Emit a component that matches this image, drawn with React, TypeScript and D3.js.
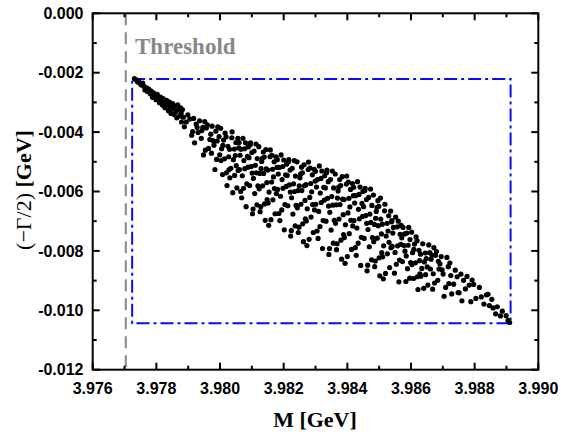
import React from 'react';
import * as d3 from 'd3';

const W = 561;
const H = 432;

const massTicks = [3.976, 3.978, 3.98, 3.982, 3.984, 3.986, 3.988, 3.99];
const massTickLabels = ['3.976', '3.978', '3.980', '3.982', '3.984', '3.986', '3.988', '3.990'];
const widthTicks = [0, -0.002, -0.004, -0.006, -0.008, -0.01, -0.012];
const widthTickLabels = ['0.000', '-0.002', '-0.004', '-0.006', '-0.008', '-0.010', '-0.012'];

const thresholdMass = 3.97704;
const thresholdLabel = 'Threshold';
const boxMass = [3.97724, 3.98913];
const boxWidth = [-0.00221, -0.01044];

const xTitle = 'M [GeV]';

const scatterPoints: [number, number][] = [
  [3.97731,-0.00220],[3.97736,-0.00224],[3.97741,-0.00231],[3.97744,-0.00227],[3.97749,-0.00236],[3.97753,-0.00241],[3.97757,-0.00235],
  [3.97761,-0.00246],[3.97764,-0.00258],[3.97769,-0.00251],[3.97772,-0.00263],[3.97776,-0.00255],[3.97781,-0.00271],[3.97784,-0.00262],[3.97788,-0.00283],
  [3.97791,-0.00268],[3.97794,-0.00279],[3.97799,-0.00291],[3.97803,-0.00273],[3.97806,-0.00286],[3.97810,-0.00301],[3.97813,-0.00282],[3.97817,-0.00294],[3.97819,-0.00309],
  [3.97821,-0.00287],[3.97825,-0.00302],[3.97827,-0.00318],[3.97832,-0.00293],[3.97834,-0.00309],[3.97838,-0.00328],[3.97841,-0.00299],[3.97844,-0.00316],[3.97846,-0.00337],[3.97849,-0.00306],
  [3.97851,-0.00304],[3.97853,-0.00322],[3.97856,-0.00341],[3.97859,-0.00313],[3.97862,-0.00331],[3.97864,-0.00352],[3.97867,-0.00308],[3.97870,-0.00324],[3.97873,-0.00346],[3.97876,-0.00318],[3.97878,-0.00337],[3.97879,-0.00366],
  [3.97882,-0.00324],[3.97894,-0.00366],[3.97905,-0.00356],[3.97888,-0.00382],[3.97899,-0.00342],[3.97885,-0.00350],
  [3.97917,-0.00354],[3.97931,-0.00401],[3.97911,-0.00411],[3.97925,-0.00373],[3.97936,-0.00362],[3.97920,-0.00436],[3.97928,-0.00384],[3.97914,-0.00398],
  [3.97952,-0.00365],[3.97943,-0.00395],[3.97964,-0.00455],[3.97957,-0.00386],[3.97948,-0.00477],[3.97968,-0.00425],[3.97941,-0.00421],[3.97960,-0.00376],[3.97954,-0.00461],[3.97946,-0.00384],
  [3.97975,-0.00380],[3.97997,-0.00415],[3.97981,-0.00444],[3.97989,-0.00492],[3.97971,-0.00407],[3.97993,-0.00382],[3.97984,-0.00526],[3.97978,-0.00429],[3.97999,-0.00477],[3.97987,-0.00397],[3.97973,-0.00471],[3.97991,-0.00430],
  [3.98002,-0.00387],[3.98014,-0.00490],[3.98025,-0.00448],[3.98008,-0.00543],[3.98019,-0.00416],[3.98005,-0.00456],[3.98028,-0.00527],[3.98011,-0.00427],[3.98022,-0.00580],[3.98016,-0.00403],[3.98003,-0.00496],[3.98027,-0.00483],[3.98009,-0.00445],[3.98020,-0.00537],
  [3.98037,-0.00419],[3.98051,-0.00513],[3.98031,-0.00554],[3.98045,-0.00457],[3.98056,-0.00421],[3.98040,-0.00604],[3.98048,-0.00479],[3.98034,-0.00522],[3.98059,-0.00453],[3.98042,-0.00493],[3.98053,-0.00588],[3.98030,-0.00458],[3.98046,-0.00546],[3.98038,-0.00399],[3.98057,-0.00529],[3.98050,-0.00435],
  [3.98072,-0.00421],[3.98063,-0.00478],[3.98084,-0.00574],[3.98077,-0.00456],[3.98068,-0.00621],[3.98088,-0.00518],[3.98061,-0.00526],[3.98080,-0.00436],[3.98074,-0.00589],[3.98066,-0.00458],[3.98086,-0.00482],[3.98070,-0.00547],[3.98082,-0.00651],[3.98060,-0.00435],[3.98078,-0.00523],[3.98089,-0.00450],[3.98065,-0.00600],[3.98075,-0.00496],
  [3.98095,-0.00443],[3.98117,-0.00489],[3.98101,-0.00538],[3.98109,-0.00607],[3.98091,-0.00486],[3.98113,-0.00440],[3.98104,-0.00659],[3.98098,-0.00516],[3.98119,-0.00581],[3.98107,-0.00464],[3.98093,-0.00580],[3.98111,-0.00512],[3.98100,-0.00469],[3.98116,-0.00645],[3.98105,-0.00556],[3.98096,-0.00436],[3.98114,-0.00537],[3.98102,-0.00675],
  [3.98122,-0.00449],[3.98134,-0.00581],[3.98145,-0.00524],[3.98128,-0.00651],[3.98139,-0.00484],[3.98125,-0.00539],[3.98148,-0.00627],[3.98131,-0.00499],[3.98142,-0.00697],[3.98136,-0.00467],[3.98123,-0.00591],[3.98147,-0.00570],[3.98129,-0.00523],[3.98140,-0.00642],[3.98133,-0.00488],[3.98144,-0.00459],[3.98126,-0.00668],[3.98137,-0.00539],
  [3.98157,-0.00483],[3.98171,-0.00590],[3.98151,-0.00639],[3.98165,-0.00525],[3.98176,-0.00483],[3.98160,-0.00695],[3.98168,-0.00551],[3.98154,-0.00602],[3.98179,-0.00519],[3.98162,-0.00568],[3.98173,-0.00675],[3.98150,-0.00528],[3.98166,-0.00628],[3.98158,-0.00460],[3.98177,-0.00607],[3.98170,-0.00500],[3.98153,-0.00714],[3.98163,-0.00478],
  [3.98192,-0.00477],[3.98183,-0.00541],[3.98204,-0.00644],[3.98197,-0.00516],[3.98188,-0.00698],[3.98208,-0.00583],[3.98181,-0.00593],[3.98200,-0.00494],[3.98194,-0.00662],[3.98186,-0.00519],[3.98206,-0.00544],[3.98190,-0.00616],[3.98202,-0.00729],[3.98180,-0.00493],[3.98198,-0.00589],[3.98209,-0.00508],[3.98185,-0.00674],[3.98195,-0.00560],
  [3.98215,-0.00500],[3.98237,-0.00548],[3.98221,-0.00602],[3.98229,-0.00676],[3.98211,-0.00546],[3.98233,-0.00496],[3.98224,-0.00732],[3.98218,-0.00578],[3.98239,-0.00647],[3.98227,-0.00522],[3.98213,-0.00648],[3.98231,-0.00574],[3.98220,-0.00528],[3.98236,-0.00716],[3.98225,-0.00621],[3.98216,-0.00493],[3.98234,-0.00600],[3.98222,-0.00750],
  [3.98242,-0.00500],[3.98254,-0.00643],[3.98265,-0.00581],[3.98248,-0.00720],[3.98259,-0.00537],[3.98245,-0.00597],[3.98268,-0.00692],[3.98251,-0.00554],[3.98262,-0.00769],[3.98256,-0.00518],[3.98243,-0.00655],[3.98267,-0.00630],[3.98249,-0.00581],[3.98260,-0.00709],[3.98253,-0.00541],[3.98264,-0.00510],[3.98246,-0.00738],[3.98257,-0.00597],
  [3.98277,-0.00526],[3.98291,-0.00644],[3.98271,-0.00699],[3.98285,-0.00573],[3.98296,-0.00525],[3.98280,-0.00761],[3.98288,-0.00601],[3.98274,-0.00658],[3.98299,-0.00565],[3.98282,-0.00620],[3.98293,-0.00738],[3.98270,-0.00577],[3.98286,-0.00686],[3.98278,-0.00501],[3.98297,-0.00662],[3.98290,-0.00544],[3.98273,-0.00782],[3.98283,-0.00521],
  [3.98312,-0.00514],[3.98303,-0.00585],[3.98324,-0.00698],[3.98317,-0.00556],[3.98308,-0.00758],[3.98328,-0.00629],[3.98301,-0.00643],[3.98320,-0.00531],[3.98314,-0.00718],[3.98306,-0.00560],[3.98326,-0.00586],[3.98310,-0.00667],[3.98322,-0.00792],[3.98300,-0.00532],[3.98318,-0.00637],[3.98329,-0.00547],[3.98305,-0.00733],[3.98315,-0.00605],
  [3.98335,-0.00536],[3.98357,-0.00588],[3.98341,-0.00649],[3.98349,-0.00730],[3.98331,-0.00588],[3.98353,-0.00531],[3.98344,-0.00792],[3.98338,-0.00623],[3.98359,-0.00697],[3.98347,-0.00560],[3.98333,-0.00700],[3.98351,-0.00617],[3.98340,-0.00567],[3.98356,-0.00774],[3.98345,-0.00670],[3.98336,-0.00528],[3.98354,-0.00646],[3.98342,-0.00812],
  [3.98362,-0.00541],[3.98374,-0.00693],[3.98385,-0.00626],[3.98368,-0.00776],[3.98379,-0.00580],[3.98365,-0.00645],[3.98388,-0.00745],[3.98371,-0.00598],[3.98382,-0.00828],[3.98376,-0.00560],[3.98363,-0.00707],[3.98387,-0.00678],[3.98369,-0.00622],[3.98380,-0.00764],[3.98373,-0.00585],[3.98384,-0.00550],[3.98366,-0.00796],[3.98377,-0.00644],
  [3.98397,-0.00575],[3.98411,-0.00697],[3.98391,-0.00755],[3.98405,-0.00623],[3.98416,-0.00573],[3.98400,-0.00819],[3.98408,-0.00652],[3.98394,-0.00712],[3.98419,-0.00614],[3.98402,-0.00672],[3.98413,-0.00795],[3.98390,-0.00627],[3.98406,-0.00742],[3.98398,-0.00548],[3.98417,-0.00716],[3.98410,-0.00593],[3.98393,-0.00842],[3.98403,-0.00568],
  [3.98432,-0.00567],[3.98423,-0.00639],[3.98444,-0.00754],[3.98437,-0.00610],[3.98428,-0.00815],[3.98448,-0.00684],[3.98421,-0.00698],[3.98440,-0.00585],[3.98434,-0.00774],[3.98426,-0.00614],[3.98446,-0.00640],[3.98430,-0.00723],[3.98442,-0.00849],[3.98420,-0.00586],[3.98438,-0.00692],[3.98449,-0.00600],[3.98425,-0.00789],[3.98435,-0.00660],
  [3.98455,-0.00597],[3.98477,-0.00647],[3.98461,-0.00707],[3.98469,-0.00786],[3.98451,-0.00651],[3.98473,-0.00592],[3.98464,-0.00848],[3.98458,-0.00681],[3.98479,-0.00755],[3.98467,-0.00620],[3.98453,-0.00758],[3.98471,-0.00676],[3.98460,-0.00627],[3.98476,-0.00830],[3.98465,-0.00728],[3.98456,-0.00589],[3.98474,-0.00704],[3.98462,-0.00867],
  [3.98482,-0.00612],[3.98494,-0.00757],[3.98505,-0.00693],[3.98488,-0.00834],[3.98499,-0.00650],[3.98485,-0.00711],[3.98508,-0.00806],[3.98491,-0.00667],[3.98502,-0.00884],[3.98496,-0.00631],[3.98483,-0.00769],[3.98507,-0.00743],[3.98489,-0.00690],[3.98500,-0.00823],[3.98493,-0.00654],[3.98504,-0.00622],[3.98486,-0.00853],[3.98497,-0.00715],
  [3.98517,-0.00665],[3.98531,-0.00771],[3.98511,-0.00820],[3.98525,-0.00707],[3.98536,-0.00666],[3.98520,-0.00876],[3.98528,-0.00733],[3.98514,-0.00783],[3.98539,-0.00702],[3.98522,-0.00750],[3.98533,-0.00856],[3.98510,-0.00710],[3.98526,-0.00810],[3.98518,-0.00643],[3.98537,-0.00789],[3.98530,-0.00682],[3.98513,-0.00894],
  [3.98552,-0.00686],[3.98543,-0.00740],[3.98564,-0.00831],[3.98557,-0.00719],[3.98548,-0.00875],[3.98568,-0.00778],[3.98541,-0.00785],[3.98560,-0.00700],[3.98554,-0.00845],[3.98545,-0.00721],[3.98566,-0.00744],[3.98550,-0.00805],[3.98562,-0.00904],[3.98540,-0.00698],[3.98558,-0.00783],[3.98569,-0.00714],
  [3.98575,-0.00721],[3.98597,-0.00762],[3.98581,-0.00801],[3.98589,-0.00860],[3.98571,-0.00756],[3.98593,-0.00721],[3.98584,-0.00903],[3.98578,-0.00782],[3.98599,-0.00839],[3.98587,-0.00740],[3.98573,-0.00836],[3.98591,-0.00781],[3.98580,-0.00743],[3.98596,-0.00892],[3.98585,-0.00817],
  [3.98602,-0.00737],[3.98614,-0.00840],[3.98625,-0.00798],[3.98608,-0.00893],[3.98619,-0.00766],[3.98605,-0.00806],[3.98628,-0.00877],[3.98611,-0.00777],[3.98622,-0.00930],[3.98616,-0.00753],[3.98603,-0.00846],[3.98627,-0.00833],[3.98609,-0.00795],[3.98620,-0.00887],
  [3.98637,-0.00776],[3.98651,-0.00854],[3.98631,-0.00885],[3.98645,-0.00807],[3.98656,-0.00780],[3.98640,-0.00926],[3.98648,-0.00826],[3.98634,-0.00859],[3.98659,-0.00806],[3.98642,-0.00837],[3.98653,-0.00915],[3.98630,-0.00811],[3.98646,-0.00880],
  [3.98672,-0.00789],[3.98663,-0.00828],[3.98684,-0.00899],[3.98677,-0.00815],[3.98668,-0.00929],[3.98688,-0.00861],[3.98661,-0.00861],[3.98680,-0.00802],[3.98674,-0.00908],[3.98666,-0.00814],[3.98686,-0.00835],[3.98670,-0.00877],
  [3.98695,-0.00819],[3.98717,-0.00853],[3.98701,-0.00878],[3.98709,-0.00923],[3.98691,-0.00844],[3.98713,-0.00822],[3.98704,-0.00953],[3.98698,-0.00864],[3.98719,-0.00910],
  [3.98722,-0.00841],[3.98734,-0.00912],[3.98745,-0.00887],[3.98728,-0.00945],[3.98739,-0.00865],[3.98725,-0.00883],[3.98748,-0.00940],
  [3.98757,-0.00878],[3.98771,-0.00928],[3.98751,-0.00941],[3.98765,-0.00899],[3.98776,-0.00886],[3.98760,-0.00968],
  [3.98792,-0.00898],[3.98783,-0.00915],[3.98804,-0.00960],[3.98797,-0.00913],[3.98788,-0.00971],
  [3.98815,-0.00923],[3.98837,-0.00948],[3.98821,-0.00955],[3.98829,-0.00979],
  [3.98842,-0.00946],[3.98846,-0.00984],[3.98854,-0.00963],[3.98858,-0.00992],[3.98866,-0.01012],
  [3.98871,-0.00988],[3.98881,-0.01019],[3.98887,-0.01003],[3.98899,-0.01018],[3.98905,-0.01034],[3.98910,-0.01041],
];

export default function App() {
  const x = d3.scaleLinear().domain([3.976, 3.99]).range([92.7, 538.3]);
  const y = d3.scaleLinear().domain([0, -0.012]).range([13.3, 369.7]);
  const L = x(3.976), R = x(3.99), T = y(0), B = y(-0.012);

  const xMinor = massTicks.slice(0, -1).map((v, i) => (v + massTicks[i + 1]) / 2);
  const yMinor = widthTicks.slice(0, -1).map((v, i) => (v + widthTicks[i + 1]) / 2);
  const major = 7, minor = 4;

  const sans = "'Liberation Sans', Arial, sans-serif";
  const serif = "'Liberation Serif', 'Times New Roman', serif";

  return (
    <svg width={W} height={H} style={{ position: 'absolute', left: 0, top: 0, background: '#fff' }}>
      <rect x={0} y={0} width={W} height={H} fill="#fff" />
      <line x1={x(thresholdMass)} x2={x(thresholdMass)} y1={T} y2={B} stroke="#888" strokeWidth={2} strokeDasharray="12,7" />
      <text x={135} y={54} fontFamily={serif} fontWeight="bold" fontSize={23} fill="#888">{thresholdLabel}</text>

      <rect x={x(boxMass[0])} y={y(boxWidth[0])} width={x(boxMass[1]) - x(boxMass[0])} height={y(boxWidth[1]) - y(boxWidth[0])}
        fill="none" stroke="#0a0aff" strokeWidth={2} strokeDasharray="13,4,3,4" />

      <g fill="#000">
        {scatterPoints.map((p, i) => (
          <circle key={i} cx={x(p[0])} cy={y(p[1])} r={2.6} />
        ))}
      </g>

      <rect x={L} y={T} width={R - L} height={B - T} fill="none" stroke="#000" strokeWidth={2} />

      <g stroke="#000" strokeWidth={2}>
        {massTicks.map((v, i) => (
          <g key={'xm' + i}>
            <line x1={x(v)} x2={x(v)} y1={B} y2={B - major} />
            <line x1={x(v)} x2={x(v)} y1={T} y2={T + major} />
          </g>
        ))}
        {xMinor.map((v, i) => (
          <g key={'xn' + i}>
            <line x1={x(v)} x2={x(v)} y1={B} y2={B - minor} />
            <line x1={x(v)} x2={x(v)} y1={T} y2={T + minor} />
          </g>
        ))}
        {widthTicks.map((v, i) => (
          <g key={'ym' + i}>
            <line x1={L} x2={L + major} y1={y(v)} y2={y(v)} />
            <line x1={R} x2={R - major} y1={y(v)} y2={y(v)} />
          </g>
        ))}
        {yMinor.map((v, i) => (
          <g key={'yn' + i}>
            <line x1={L} x2={L + minor} y1={y(v)} y2={y(v)} />
            <line x1={R} x2={R - minor} y1={y(v)} y2={y(v)} />
          </g>
        ))}
      </g>

      <g fontFamily={sans} fontWeight="bold" fontSize={16} fill="#000">
        {massTicks.map((v, i) => (
          <text key={'xl' + i} x={x(v)} y={394} textAnchor="middle">{massTickLabels[i]}</text>
        ))}
        {widthTicks.map((v, i) => (
          <text key={'yl' + i} x={83.5} y={y(v)} dy="0.36em" textAnchor="end">{widthTickLabels[i]}</text>
        ))}
      </g>

      <text x={315} y={427} textAnchor="middle" fontFamily={serif} fontWeight="bold" fontSize={22}>{xTitle}</text>
      <text transform="translate(31,190) rotate(-90)" textAnchor="middle" fontFamily={serif} fontSize={22}>
        <tspan>(−Γ/2)</tspan><tspan fontWeight="bold"> [GeV]</tspan>
      </text>
    </svg>
  );
}
